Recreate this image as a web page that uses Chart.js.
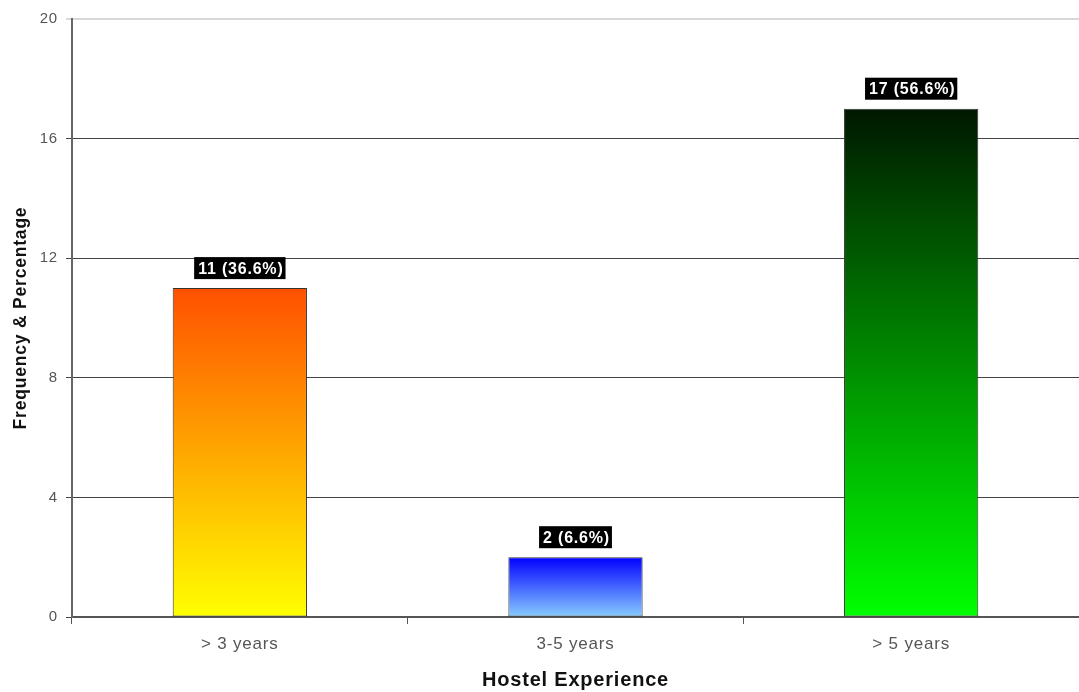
<!DOCTYPE html>
<html>
<head>
<meta charset="utf-8">
<script src="https://cdn.jsdelivr.net/npm/chart.js@4.4.1/dist/chart.umd.min.js"></script>
<style>
  html, body { margin: 0; padding: 0; background: #fff; }
  #wrap { width: 1079px; height: 692px; }
</style>
</head>
<body>
<div id="wrap"><canvas id="chart" width="1079" height="692"></canvas></div>
<script>
const categories = ['> 3 years', '3-5 years', '> 5 years']
const frequency = [11, 2, 17]
const percentage = [36.6, 6.6, 56.6]
const yTicks = [0, 4, 8, 12, 16, 20]

// top / bottom colours of each bar's vertical gradient
const gradTop = ['#ff5000', '#0000ff', '#001800']
const gradBottom = ['#ffff00', '#88ccff', '#00ff00']

const FONT = '"Liberation Sans", Arial, sans-serif'
const ctx = document.getElementById('chart').getContext('2d')

function barGradient(context) {
  const chart = context.chart
  const i = context.dataIndex
  const y = chart.scales.y
  if (!y || !chart.chartArea) return gradBottom[i]
  const top = y.getPixelForValue(frequency[i])
  const bottom = y.getPixelForValue(0)
  const g = chart.ctx.createLinearGradient(0, top, 0, bottom)
  g.addColorStop(0, gradTop[i])
  g.addColorStop(1, gradBottom[i])
  return g
}

// the original text is a bit wide, so spread the letters a little
const wideText = {
  id: 'wideText',
  beforeUpdate(chart) { chart.ctx.letterSpacing = '0.8px' },
  beforeDraw(chart) { chart.ctx.letterSpacing = '0.8px' }
}

// black boxes with white text above each bar
const valueLabels = {
  id: 'valueLabels',
  afterDatasetsDraw(chart) {
    const c = chart.ctx
    const meta = chart.getDatasetMeta(0)
    c.save()
    c.font = 'bold 16px ' + FONT
    c.textAlign = 'center'
    c.textBaseline = 'middle'
    meta.data.forEach((bar, i) => {
      const txt = frequency[i] + ' (' + percentage[i] + '%)'
      const w = c.measureText(txt).width + 6
      const h = 22
      const cy = bar.y - 20
      c.fillStyle = '#000'
      c.fillRect(bar.x - w / 2, cy - h / 2, w, h)
      c.fillStyle = '#fff'
      c.fillText(txt, bar.x + 1, cy + 1)
    })
    c.restore()
  }
}

new Chart(ctx, {
  type: 'bar',
  data: {
    labels: categories,
    datasets: [{
      data: frequency,
      backgroundColor: barGradient,
      borderColor: '#333',
      borderWidth: 1,
      borderSkipped: false,
      categoryPercentage: 1,
      barPercentage: 0.4
    }]
  },
  options: {
    responsive: false,
    animation: false,
    layout: { padding: { top: 19, right: 0, left: 0, bottom: 0 } },
    plugins: {
      legend: { display: false },
      tooltip: { enabled: false }
    },
    scales: {
      x: {
        grid: {
          offset: true,
          drawOnChartArea: false,
          color: '#555',
          tickLength: 7
        },
        border: { color: '#555', width: 2 },
        ticks: {
          color: '#555',
          font: { family: FONT, size: 17 },
          padding: 10
        },
        title: {
          display: true,
          text: 'Hostel Experience',
          color: '#111',
          font: { family: FONT, size: 20, weight: 'bold' },
          padding: { top: 0, bottom: 0 }
        },
        afterFit: s => { s.height = 75 }
      },
      y: {
        min: 0,
        max: 20,
        afterBuildTicks: s => { s.ticks = yTicks.map(v => ({ value: v })) },
        grid: {
          color: c => c.tick && c.tick.value === 20 ? '#d8d8d8' : '#444',
          lineWidth: c => c.tick && c.tick.value === 20 ? 2 : 1,
          tickLength: 6
        },
        border: { color: '#666', width: 2 },
        ticks: {
          color: '#555',
          font: { family: FONT, size: 15 },
          padding: 8
        },
        title: {
          display: true,
          text: 'Frequency & Percentage',
          color: '#111',
          font: { family: FONT, size: 17.5, weight: 'bold' },
          padding: { top: 11, bottom: 0 }
        },
        afterFit: s => { s.width = 72 }
      }
    }
  },
  plugins: [wideText, valueLabels]
})
</script>
</body>
</html>
